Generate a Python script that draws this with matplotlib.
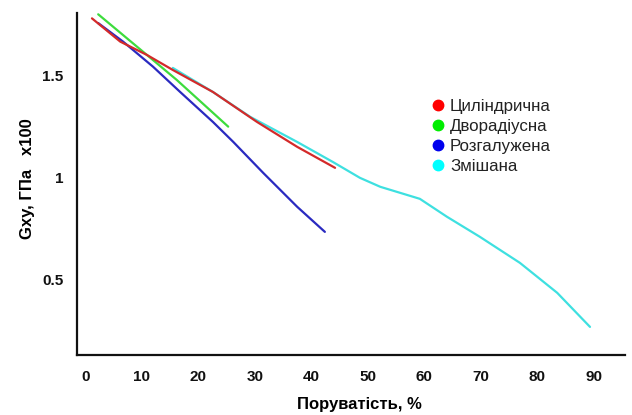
import matplotlib
matplotlib.use("Agg")
import matplotlib.pyplot as plt
from matplotlib.lines import Line2D

plt.rcParams['font.family'] = ['Liberation Sans', 'DejaVu Sans']

# Data (porosity %, Gxy GPa x100)
cyl_x = [1.2, 6.2, 10.9, 15.5, 22.6, 30.4, 37.5, 44.2]
cyl_y = [1.779, 1.665, 1.600, 1.526, 1.418, 1.271, 1.149, 1.046]

dvo_x = [2.3, 10.9, 16.2, 25.3]
dvo_y = [1.799, 1.600, 1.477, 1.248]

roz_x = [2.3, 6.7, 12.0, 16.8, 22.6, 26.2, 31.5, 37.5, 42.4]
roz_y = [1.756, 1.665, 1.542, 1.418, 1.271, 1.173, 1.021, 0.855, 0.732]

zmi_x = [15.5, 22.6, 29.2, 37.5, 43.8, 48.6, 52.2, 59.2, 64.0, 69.8, 76.9, 83.5, 89.3]
zmi_y = [1.536, 1.418, 1.296, 1.173, 1.075, 0.997, 0.953, 0.894, 0.806, 0.708, 0.580, 0.433, 0.266]

labels = ['Циліндрична', 'Дворадіусна', 'Розгалужена', 'Змішана']
line_colors = ['#d42a2a', '#3ddc3d', '#2a2ac0', '#3ee0e0']
marker_colors = ['#ff0000', '#00ee00', '#0000ee', '#00ffff']

x_ticks = [0, 10, 20, 30, 40, 50, 60, 70, 80, 90]
y_ticks = [0.5, 1.0, 1.5]
y_tick_labels = ['0.5', '1', '1.5']

fig = plt.figure(figsize=(6.32, 4.15), dpi=100)
ax = fig.add_axes([0.122, 0.145, 0.867, 0.824])

series = [(cyl_x, cyl_y), (dvo_x, dvo_y), (roz_x, roz_y), (zmi_x, zmi_y)]
order = [3, 2, 1, 0]
for i in order:
    xs, ys = series[i]
    ax.plot(xs, ys, color=line_colors[i], lw=1.6, solid_capstyle='round')

ax.set_xlim(-1.43, 95.5)
ax.set_ylim(0.129, 1.806)

for s in ['top', 'right']:
    ax.spines[s].set_visible(False)
for s in ['left', 'bottom']:
    ax.spines[s].set_linewidth(1.6)
    ax.spines[s].set_color('#111111')

ax.set_xticks(x_ticks)
ax.set_xticklabels([str(t) for t in x_ticks], fontweight='bold', fontsize=11)
ax.set_yticks(y_ticks)
ax.set_yticklabels(y_tick_labels, fontweight='bold', fontsize=11)
ax.tick_params(axis='both', length=0, colors='#111111')
ax.tick_params(axis='x', pad=11)
ax.tick_params(axis='y', pad=10)

ax.set_xlabel('Поруватість, %', fontweight='bold', fontsize=12)
ax.xaxis.set_label_coords(0.516, -0.123)
ax.set_ylabel('Gxy, ГПа   x100', fontweight='bold', fontsize=12)
ax.yaxis.set_label_coords(-0.077, 0.515)

handles = [Line2D([0], [0], marker='o', color='none', markerfacecolor=c,
                  markeredgecolor=c, markersize=7.5) for c in marker_colors]
leg = fig.legend(handles, labels, loc='upper left', bbox_to_anchor=(0.672, 0.782),
                 frameon=False, fontsize=12.2, handlelength=0.6, handletextpad=0.4,
                 labelspacing=0.3, borderpad=0)
for t in leg.get_texts():
    t.set_color('#222222')

fig.savefig('out.png', dpi=100)
